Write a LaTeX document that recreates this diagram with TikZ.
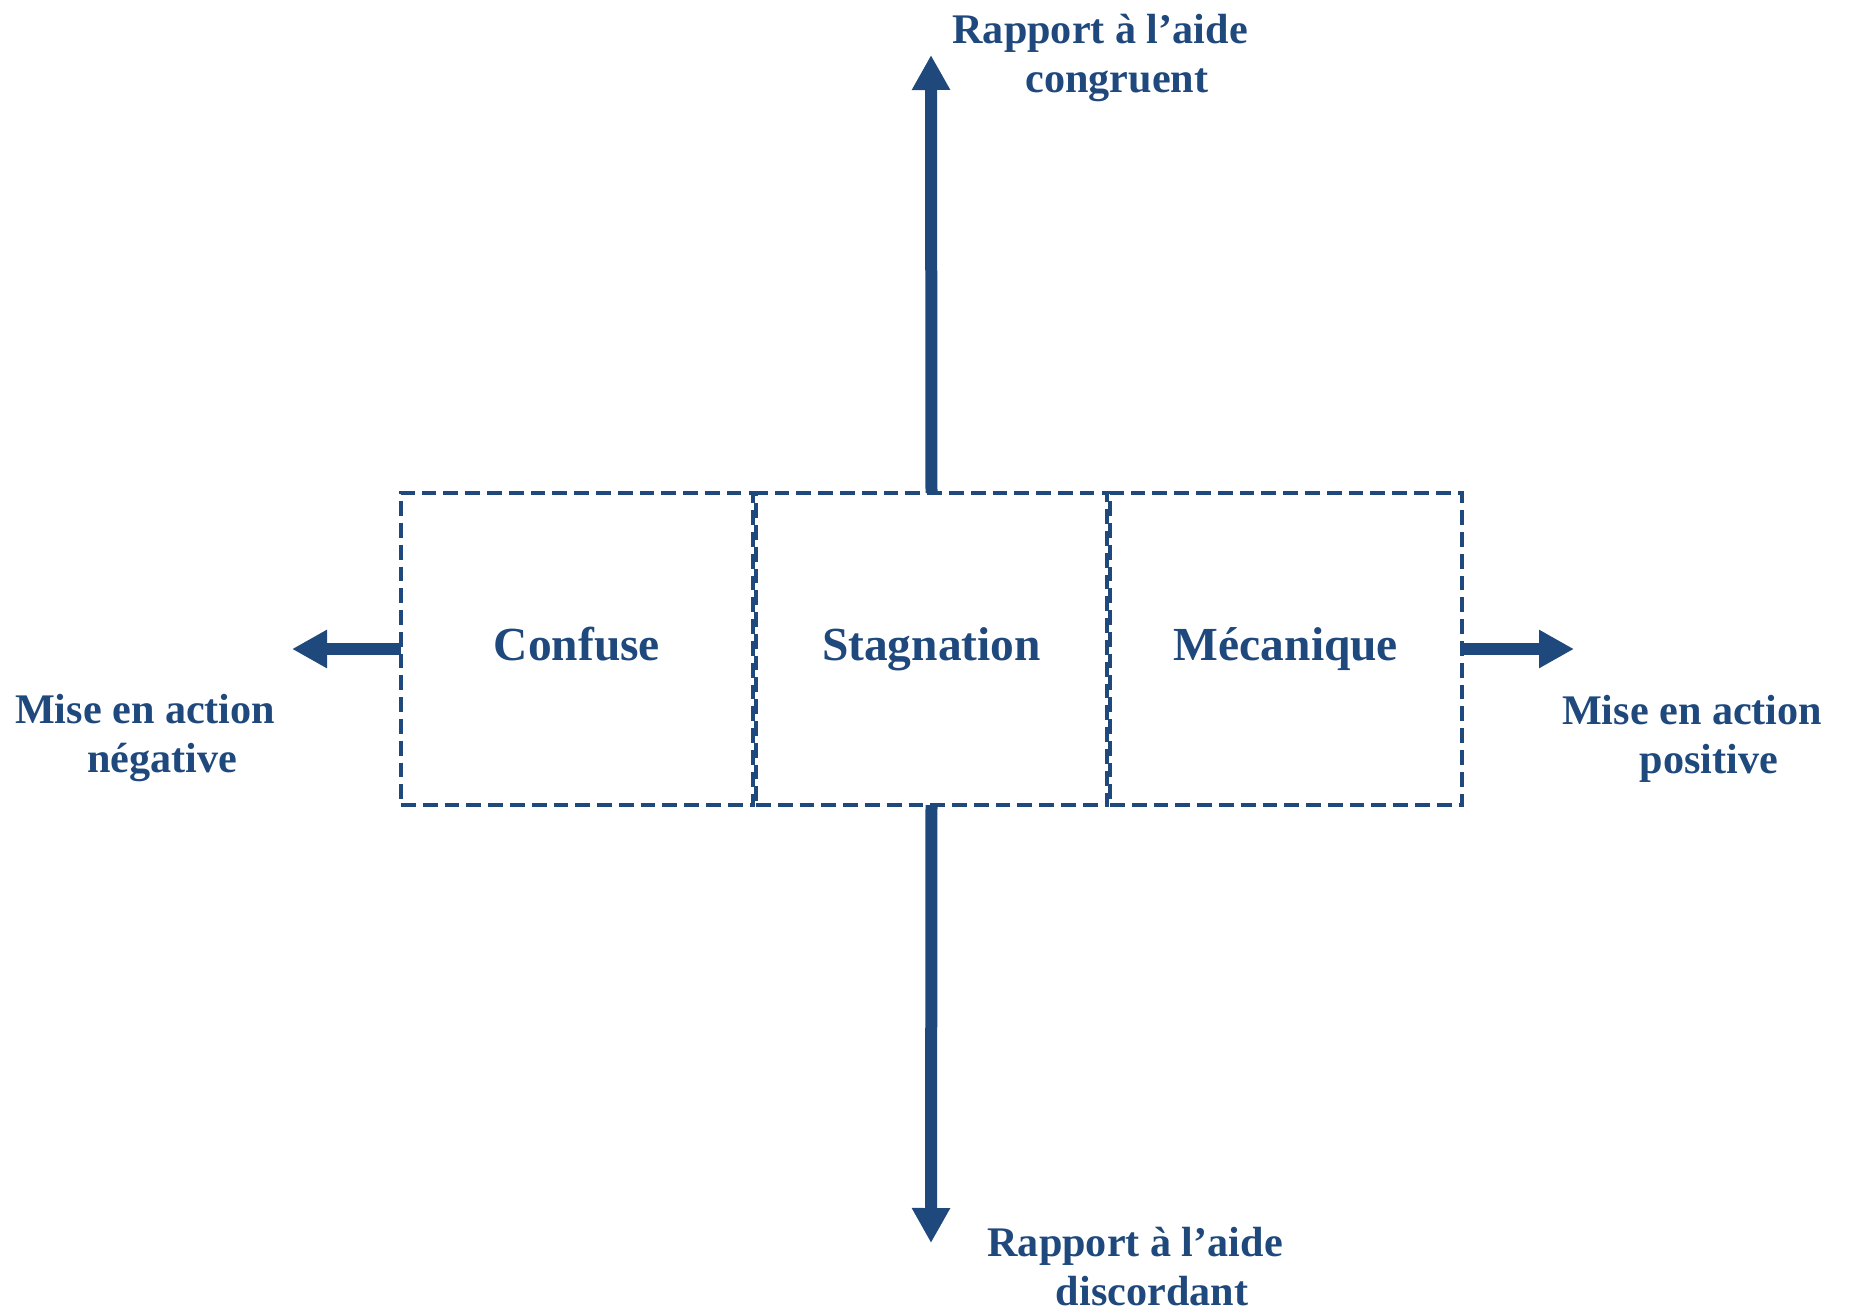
\documentclass[tikz,border=0pt]{standalone}
\usepackage{fontspec}
\setmainfont{Liberation Serif}
\usetikzlibrary{arrows.meta}
\definecolor{navy}{HTML}{1F497D}
\begin{document}
\begin{tikzpicture}[
   cell/.style={draw=navy,line width=1pt,dash pattern=on 4.2pt off 2pt,
     minimum height=3.12cm,inner sep=0pt,outer sep=0pt,text=navy,
     text height=0.68em,text depth=0pt,
     font=\fontsize{13.5}{16}\selectfont\bfseries},
   axis/.style={draw=navy,line width=0.12cm,
     -{Triangle[length=0.35cm,width=0.36cm]}},
   lab/.style={text=navy,align=center,anchor=base,inner sep=0pt,
     font=\fontsize{12}{13.9}\selectfont\bfseries}]
   \useasboundingbox (0,0) rectangle (18.49,-13.13);
   \node[cell,minimum width=3.52cm] (conf) at (5.77,-6.49) {Confuse};
   \node[cell,minimum width=3.51cm] (stag) at (9.315,-6.49) {Stagnation};
   \node[cell,minimum width=3.52cm] (meca) at (12.86,-6.49) {Mécanique};
   \coordinate (up) at (9.31,-0.55);
   \coordinate (down) at (9.31,-12.43);
   \coordinate (left) at (2.92,-6.49);
   \coordinate (right) at (15.74,-6.49);
   \draw[axis] (stag.north) -- (up);
   \draw[axis] (stag.south) -- (down);
   \draw[axis] (conf.west) -- (left);
   \draw[axis] (meca.east) -- (right);
   \node[lab] (congru) at (11.17,-0.92) {Rapport à l’aide\hspace*{0.8em}\\congruent};
   \node[lab] (discord) at (11.52,-13.05) {Rapport à l’aide\hspace*{0.8em}\\discordant};
   \node[lab] (negat) at (1.62,-7.72) {Mise en action\hspace*{0.8em}\\négative};
   \node[lab] (posit) at (17.09,-7.73) {Mise en action\hspace*{0.8em}\\positive};
\end{tikzpicture}
\end{document}
